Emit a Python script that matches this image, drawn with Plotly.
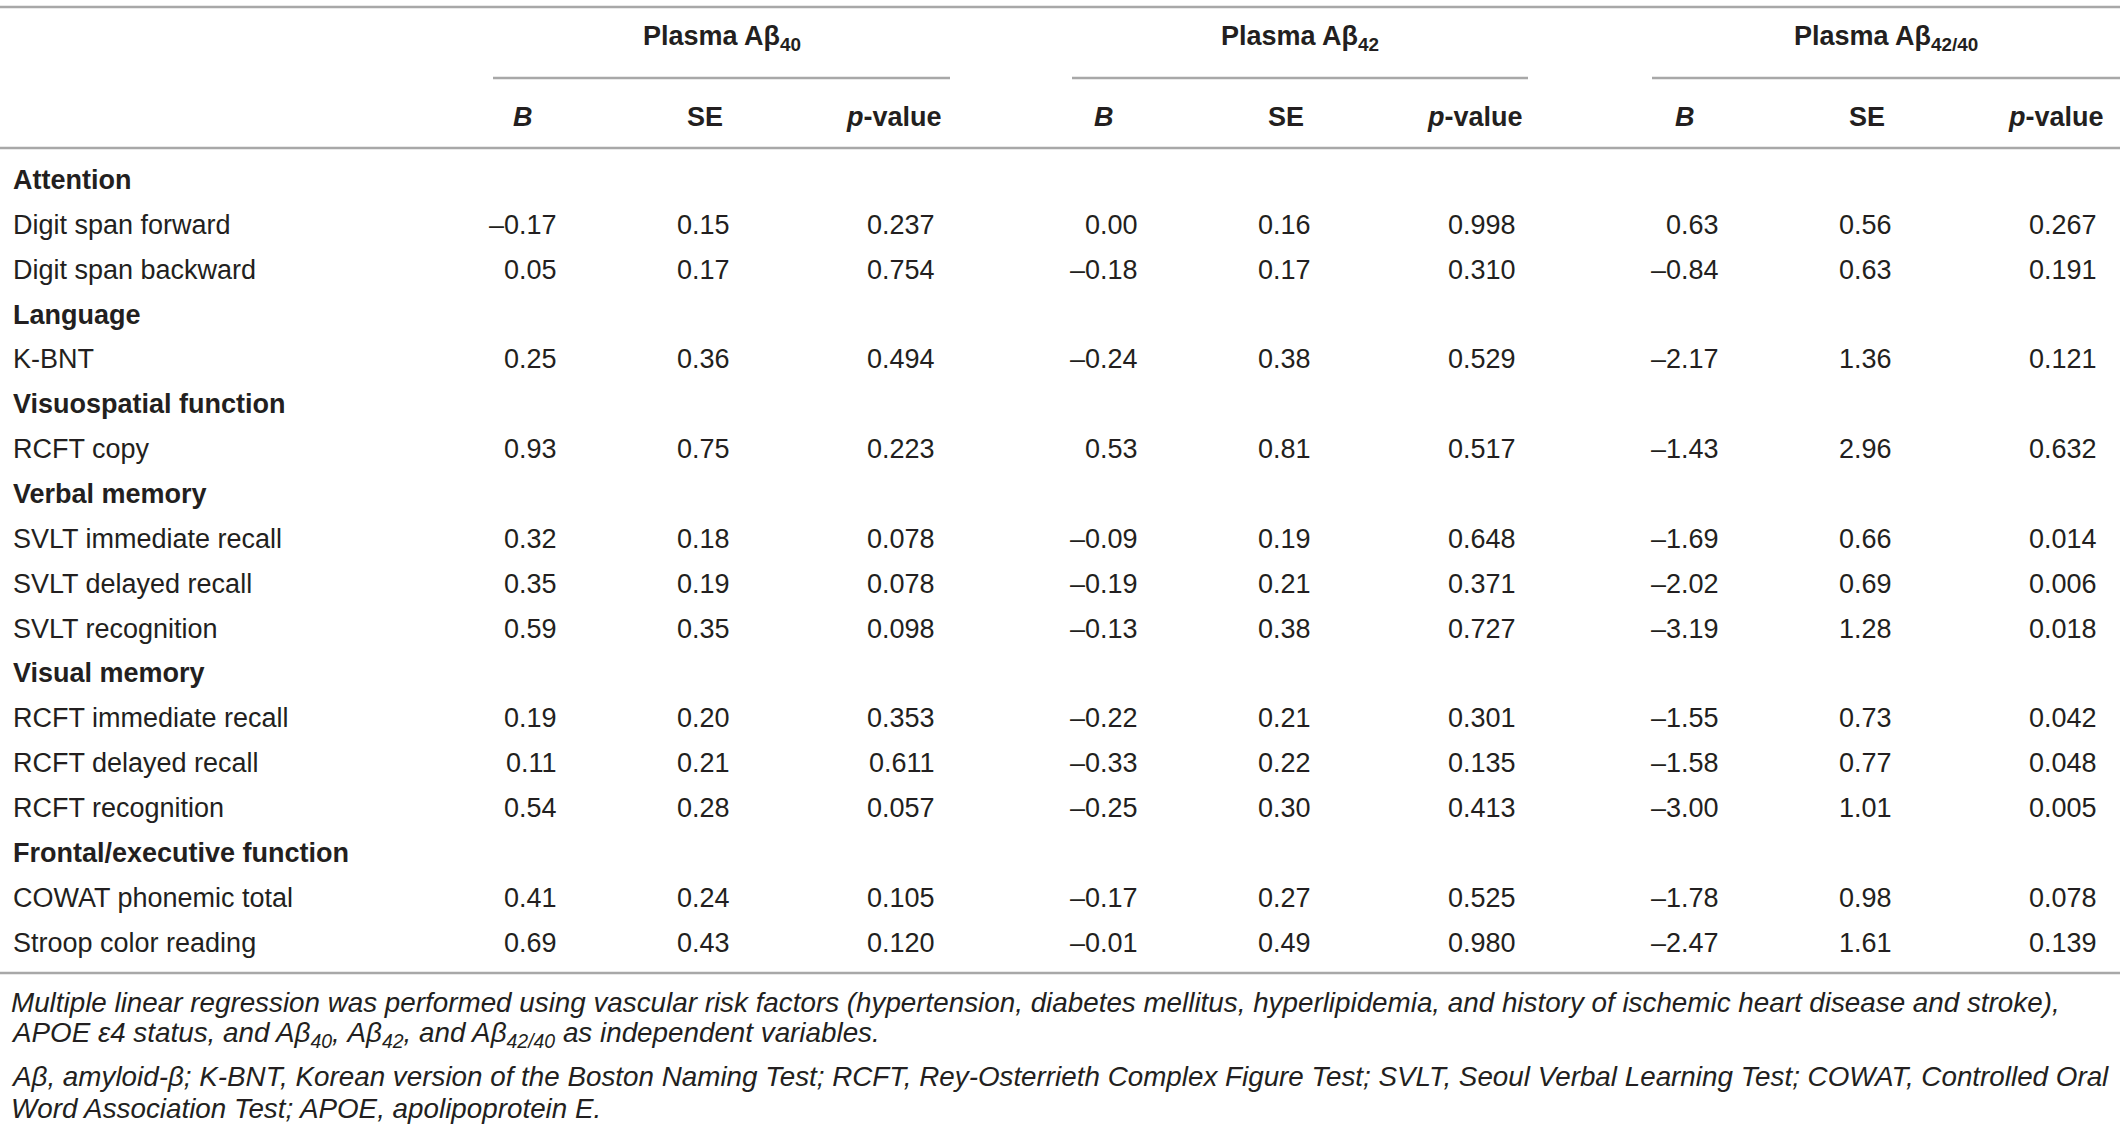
import plotly.graph_objects as go

# table content
groups = ["Plasma Aβ<sub>40</sub>", "Plasma Aβ<sub>42</sub>", "Plasma Aβ<sub>42/40</sub>"]
sub_headers = ["<i>B</i>", "SE", "<i>p</i>-value"]

categories = ["Attention", "Language", "Visuospatial function", "Verbal memory",
              "Visual memory", "Frontal/executive function"]
tests = ["Digit span forward", "Digit span backward", "K-BNT", "RCFT copy",
         "SVLT immediate recall", "SVLT delayed recall", "SVLT recognition",
         "RCFT immediate recall", "RCFT delayed recall", "RCFT recognition",
         "COWAT phonemic total", "Stroop color reading"]
test_category = [0, 0, 1, 2, 3, 3, 3, 4, 4, 4, 5, 5]

b_40 = [-0.17, 0.05, 0.25, 0.93, 0.32, 0.35, 0.59, 0.19, 0.11, 0.54, 0.41, 0.69]
se_40 = [0.15, 0.17, 0.36, 0.75, 0.18, 0.19, 0.35, 0.20, 0.21, 0.28, 0.24, 0.43]
p_40 = [0.237, 0.754, 0.494, 0.223, 0.078, 0.078, 0.098, 0.353, 0.611, 0.057, 0.105, 0.120]

b_42 = [0.00, -0.18, -0.24, 0.53, -0.09, -0.19, -0.13, -0.22, -0.33, -0.25, -0.17, -0.01]
se_42 = [0.16, 0.17, 0.38, 0.81, 0.19, 0.21, 0.38, 0.21, 0.22, 0.30, 0.27, 0.49]
p_42 = [0.998, 0.310, 0.529, 0.517, 0.648, 0.371, 0.727, 0.301, 0.135, 0.413, 0.525, 0.980]

b_ratio = [0.63, -0.84, -2.17, -1.43, -1.69, -2.02, -3.19, -1.55, -1.58, -3.00, -1.78, -2.47]
se_ratio = [0.56, 0.63, 1.36, 2.96, 0.66, 0.69, 1.28, 0.73, 0.77, 1.01, 0.98, 1.61]
p_ratio = [0.267, 0.191, 0.121, 0.632, 0.014, 0.006, 0.018, 0.042, 0.048, 0.005, 0.078, 0.139]

footnotes = [
    "Multiple linear regression was performed using vascular risk factors (hypertension, diabetes mellitus, hyperlipidemia, and history of ischemic heart disease and stroke),",
    "APOE ε4 status, and Aβ<sub>40</sub>, Aβ<sub>42</sub>, and Aβ<sub>42/40</sub> as independent variables.",
    "Aβ, amyloid-β; K-BNT, Korean version of the Boston Naming Test; RCFT, Rey-Osterrieth Complex Figure Test; SVLT, Seoul Verbal Learning Test; COWAT, Controlled Oral",
    "Word Association Test; APOE, apolipoprotein E.",
]

W, H = 2120, 1133
FONT = "Liberation Sans, Arial, sans-serif"
TXT = "#231f20"
RULE = "#a8a8a8"
FS = 27


def fmt(v, nd):
    s = f"{abs(v):.{nd}f}"
    return ("\u2013" + s) if v < 0 else s


# layout geometry (pixels)
group_shift = 581
b_right, se_right, p_right = 559, 732, 937
hdr_x = [523, 705, 894]
group_line = [(493, 950), (1072, 1528), (1652, 2120)]
row0, pitch = 180, 44.86

annotations = []
shapes = []


def add_text(x, y, text, anchor="left", size=FS):
    annotations.append(dict(x=x, y=y, xref="x", yref="y", text=text, showarrow=False,
                            xanchor=anchor, yanchor="middle",
                            font=dict(family=FONT, size=size, color=TXT)))


def add_rule(x0, x1, y):
    shapes.append(dict(type="line", xref="x", yref="y", x0=x0, x1=x1, y0=y, y1=y,
                       line=dict(color=RULE, width=2.5)))


add_rule(0, W, 7)
add_rule(0, W, 148)

for g, name in enumerate(groups):
    x0, x1 = group_line[g]
    add_text((x0 + x1) / 2, 38, "<b>" + name + "</b>", "center")
    add_rule(x0, x1, 78)
    for k, h in enumerate(sub_headers):
        add_text(hdr_x[k] + g * group_shift, 117, "<b>" + h + "</b>", "center")

cols = [(b_40, se_40, p_40), (b_42, se_42, p_42), (b_ratio, se_ratio, p_ratio)]

row = 0
last_cat = None
for i, t in enumerate(tests):
    c = test_category[i]
    if c != last_cat:
        add_text(11, row0 + row * pitch, "<b>" + categories[c] + "</b>")
        row += 1
        last_cat = c
    y = row0 + row * pitch
    add_text(11, y, t)
    for g, (bv, sv, pv) in enumerate(cols):
        off = g * group_shift
        add_text(b_right + off, y, fmt(bv[i], 2), "right")
        add_text(se_right + off, y, fmt(sv[i], 2), "right")
        add_text(p_right + off, y, fmt(pv[i], 3), "right")
    row += 1

add_rule(0, W, 973)

foot_y = [1002, 1034, 1076, 1108]
for y, t in zip(foot_y, footnotes):
    add_text(9, y, "<i>" + t + "</i>", "left", size=27.8)

fig = go.Figure()
fig.update_layout(
    width=W, height=H,
    margin=dict(l=0, r=0, t=0, b=0),
    paper_bgcolor="white", plot_bgcolor="white",
    xaxis=dict(range=[0, W], visible=False, fixedrange=True),
    yaxis=dict(range=[H, 0], visible=False, fixedrange=True),
    annotations=annotations, shapes=shapes,
    showlegend=False,
)

# drop the page's default body margin so the figure sits at the window corner
fig.write_html("out.html", config={"displayModeBar": False},
               post_script="document.body.style.margin='0';")
